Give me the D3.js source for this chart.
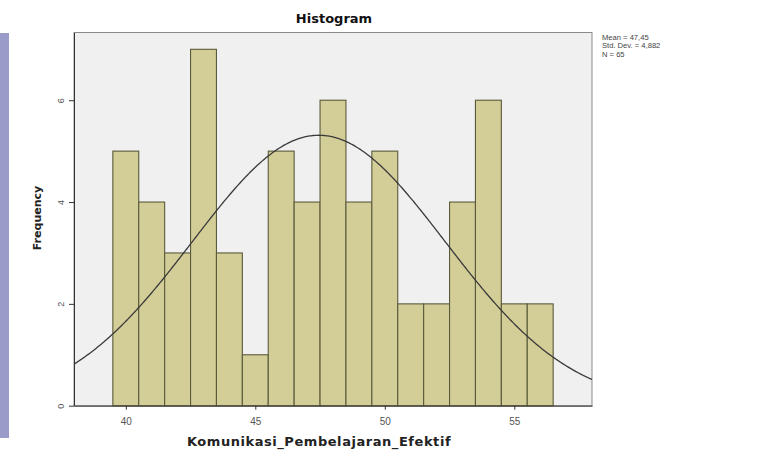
<!DOCTYPE html>
<html>
<head>
<meta charset="utf-8">
<script src="https://cdn.jsdelivr.net/npm/d3@7"></script>
<style>
    body { margin: 0; background: #fff; }
    svg { display: block; font-family: "Liberation Sans", Arial, sans-serif; }
</style>
</head>
<body>
<svg id="chart" width="775" height="456"></svg>
<script>
    // bin centres (integer scores) and their counts
    var scores = [40, 41, 42, 43, 44, 45, 46, 47, 48, 49, 50, 51, 52, 53, 54, 55, 56];
    var counts = [5, 4, 3, 7, 3, 1, 5, 4, 6, 4, 5, 2, 2, 4, 6, 2, 2];
    var xTicks = [40, 45, 50, 55];
    var yTicks = [0, 2, 4, 6];
    var statLabels = ['Mean = 47,45', 'Std. Dev. = 4,882', 'N = 65'];
    var stats = { mean: 47.45, sd: 4.882, n: 65 };

    var svg = d3.select('#chart');
    var frame = { left: 74, top: 32.5, right: 592, bottom: 405.7 };

    var x = d3.scaleLinear().domain([38, 58]).range([frame.left, frame.right]);
    var y = d3.scaleLinear().domain([0, 7.33]).range([frame.bottom, frame.top]);

    // slide strip on the left
    svg.append('rect')
        .attr('x', 0).attr('y', 33)
        .attr('width', 9).attr('height', 405)
        .attr('fill', '#9b9bc9');

    svg.append('clipPath').attr('id', 'plot-clip')
        .append('rect')
        .attr('x', frame.left).attr('y', frame.top)
        .attr('width', frame.right - frame.left)
        .attr('height', frame.bottom - frame.top);

    svg.append('rect')
        .attr('x', frame.left).attr('y', frame.top)
        .attr('width', frame.right - frame.left)
        .attr('height', frame.bottom - frame.top)
        .attr('fill', '#f0f0f0')
        .attr('stroke', '#8a8a8a');

    var bins = scores.map(function(s, i) {
        return { score: s, count: counts[i] };
    });

    svg.append('g').selectAll('rect')
        .data(bins)
        .enter().append('rect')
        .attr('x', function(d) { return x(d.score - 0.5); })
        .attr('y', function(d) { return y(d.count); })
        .attr('width', function(d) { return x(d.score + 0.5) - x(d.score - 0.5); })
        .attr('height', function(d) { return y(0) - y(d.count); })
        .attr('fill', '#d3ce97')
        .attr('stroke', '#5b5a3a')
        .attr('stroke-width', 1.1);

    // normal curve from the reported mean / sd, scaled to counts per unit bin
    function density(v) {
        var z = (v - stats.mean) / stats.sd;
        return stats.n * Math.exp(-0.5 * z * z) / (stats.sd * Math.sqrt(2 * Math.PI));
    }
    var curvePts = d3.range(0, 401).map(function(i) {
        var v = 38 + i * 0.05;
        return [v, density(v)];
    });
    svg.append('path')
        .datum(curvePts)
        .attr('clip-path', 'url(#plot-clip)')
        .attr('fill', 'none')
        .attr('stroke', '#3a3a3a')
        .attr('stroke-width', 1.3)
        .attr('d', d3.line()
            .x(function(d) { return x(d[0]); })
            .y(function(d) { return y(d[1]); }));

    // axes
    var xAxis = svg.append('g')
        .attr('transform', 'translate(0,' + frame.bottom + ')')
        .call(d3.axisBottom(x).tickValues(xTicks).tickSize(4).tickPadding(8).tickSizeOuter(0));
    xAxis.select('.domain').attr('stroke', '#333');
    xAxis.selectAll('.tick line').attr('stroke', '#333');
    xAxis.selectAll('.tick text')
        .attr('font-size', 10)
        .attr('fill', '#555')
        .attr('font-family', '"Liberation Sans", Arial, sans-serif');

    var yAxis = svg.append('g')
        .attr('transform', 'translate(' + frame.left + ',0)')
        .call(d3.axisLeft(y).tickValues(yTicks).tickSize(5).tickSizeOuter(0));
    yAxis.select('.domain').attr('stroke', '#333');
    yAxis.selectAll('.tick line').attr('stroke', '#333');
    yAxis.selectAll('.tick text')
        .attr('font-size', 9)
        .attr('fill', '#555')
        .attr('font-family', '"Liberation Sans", Arial, sans-serif')
        .attr('x', 0).attr('dy', 0)
        .attr('text-anchor', 'middle')
        .attr('transform', 'translate(-10,0) rotate(-90)');

    // titles
    svg.append('text')
        .attr('x', 334).attr('y', 23)
        .attr('text-anchor', 'middle')
        .attr('font-family', '"DejaVu Sans", Verdana, sans-serif')
        .attr('font-size', 13).attr('font-weight', 'bold')
        .attr('fill', '#111')
        .text('Histogram');

    svg.append('text')
        .attr('x', 319).attr('y', 446)
        .attr('text-anchor', 'middle')
        .attr('font-family', '"DejaVu Sans", Verdana, sans-serif')
        .attr('font-size', 13).attr('font-weight', 'bold')
        .attr('letter-spacing', 0.55)
        .attr('fill', '#222')
        .text('Komunikasi_Pembelajaran_Efektif');

    svg.append('text')
        .attr('transform', 'translate(41,218) rotate(-90)')
        .attr('text-anchor', 'middle')
        .attr('font-family', '"DejaVu Sans", Verdana, sans-serif')
        .attr('font-size', 11).attr('font-weight', 'bold')
        .attr('fill', '#222')
        .text('Frequency');

    svg.append('g').selectAll('text')
        .data(statLabels)
        .enter().append('text')
        .attr('x', 602)
        .attr('y', function(d, i) { return 39.5 + i * 8.7; })
        .attr('font-size', 7.6)
        .attr('fill', '#444')
        .text(function(d) { return d; });
</script>
</body>
</html>
